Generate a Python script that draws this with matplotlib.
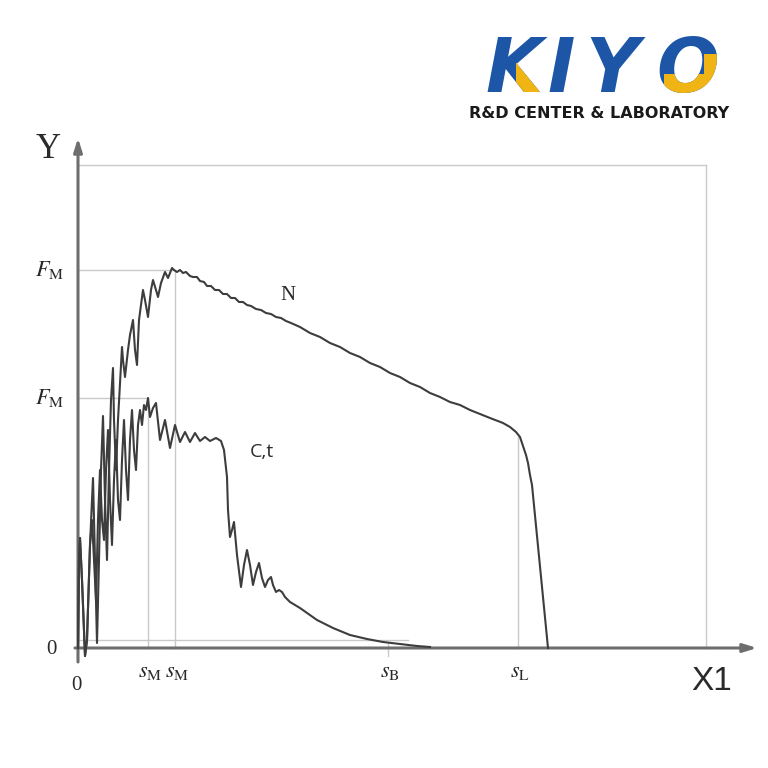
import matplotlib
matplotlib.use("Agg")
import matplotlib.pyplot as plt
from matplotlib.transforms import Bbox, TransformedBbox

plt.rcParams['mathtext.fontset'] = 'stix'

# ---- data (displacement, force) in chart units ----
n_x = [0, 1, 2, 4, 7, 9, 12, 15, 17, 19, 21, 23, 25, 27, 29, 31, 33, 35, 36, 38, 40, 44, 45, 47,
       50, 52, 55, 57, 59, 61, 65, 67, 70, 73, 75, 78, 80, 83, 87, 90, 94, 96, 99, 102, 105, 108,
       112, 115, 119, 122, 126, 129, 133, 137, 141, 145, 149, 153, 157, 161, 165, 169, 173, 178,
       183, 188, 193, 198, 203, 208, 213, 222, 232, 242, 252, 262, 272, 282, 292, 302, 312, 322,
       332, 342, 352, 362, 372, 382, 392, 402, 412, 425, 432, 438, 442, 445, 448, 450, 452, 454, 470]
n_y = [0, 88, 110, 68, -8, 8, 103, 170, 88, 5, 88, 178, 232, 148, 88, 178, 248, 280, 228, 178, 228,
       301, 288, 271, 298, 313, 328, 298, 283, 328, 358, 348, 331, 358, 368, 358, 351, 365, 376,
       370, 380, 378, 376, 378, 375, 376, 372, 371, 371, 367, 366, 362, 362, 358, 358, 354, 354,
       350, 350, 346, 346, 343, 342, 339, 338, 335, 334, 331, 330, 327, 325, 321, 315, 311, 305,
       301, 295, 291, 285, 281, 275, 271, 265, 261, 255, 251, 246, 243, 238, 234, 230, 225, 221,
       216, 211, 202, 193, 185, 173, 163, 0]

c_x = [0, 1, 2, 4, 7, 9, 12, 14, 16, 18, 20, 22, 24, 26, 28, 30, 32, 34, 36, 38, 40, 42, 44, 46,
       48, 50, 52, 54, 56, 58, 60, 62, 64, 66, 68, 70, 72, 75, 78, 82, 87, 92, 97, 102, 107, 112,
       117, 122, 127, 132, 138, 143, 146, 149, 150, 152, 154, 156, 159, 163, 166, 169, 172, 175,
       178, 181, 184, 187, 190, 193, 195, 198, 201, 204, 207, 212, 222, 239, 255, 272, 289, 305,
       322, 339, 352]
c_y = [0, 88, 110, 68, -8, 8, 103, 128, 88, 48, 128, 178, 128, 108, 178, 218, 148, 103, 168, 208,
       148, 128, 188, 228, 178, 148, 208, 238, 198, 178, 223, 238, 223, 243, 238, 250, 231, 240,
       245, 208, 228, 200, 223, 206, 216, 206, 215, 207, 211, 207, 210, 207, 198, 171, 138, 111,
       118, 126, 93, 61, 83, 98, 83, 63, 76, 85, 70, 61, 68, 71, 63, 56, 58, 56, 51, 46, 40, 28,
       20, 13, 9, 6, 4, 2, 1]

F_M_N = 378      # peak force, N curve
F_M_C = 250      # peak force, C,t curve
s_M_C = 70
s_M_N = 97
s_B = 310
s_L = 440
x_box = 628
y_box = 483
x_axis_end = 667
y_axis_end = 510

tick_vals = [s_M_C, s_M_N, s_B, s_L]
tick_labels = [r'$s_{\mathrm{M}}$', r'$s_{\mathrm{M}}$', r'$s_{\mathrm{B}}$', r'$s_{\mathrm{L}}$']

# ---- figure ----
fig = plt.figure(figsize=(7.68, 7.68), dpi=100)
ax = fig.add_axes([0, 0, 1, 1])
ax.set_xlim(-78, 690)
ax.set_ylim(-120, 648)
ax.axis('off')

guide = dict(color='#c9c9c9', lw=1.0, zorder=1)
ax.plot([0, x_box], [y_box, y_box], **guide)
ax.plot([x_box, x_box], [0, y_box], **guide)
ax.plot([0, s_M_N], [F_M_N, F_M_N], **guide)
ax.plot([s_M_N, s_M_N], [0, F_M_N], **guide)
ax.plot([0, s_M_C], [F_M_C, F_M_C], **guide)
ax.plot([s_M_C, s_M_C], [0, F_M_C], **guide)
ax.plot([s_L, s_L], [0, 211], **guide)
ax.plot([0, 330], [8, 8], **guide)
ax.plot([s_B, s_B], [-8, 5], **guide)

# axes with arrows
ax.annotate('', xy=(x_axis_end + 12, 0), xytext=(-3, 0),
            arrowprops=dict(arrowstyle='-|>,head_length=0.8,head_width=0.25',
                            color='#6e6e6e', lw=2.2, shrinkA=0, shrinkB=0), zorder=2)
ax.annotate('', xy=(0, y_axis_end), xytext=(0, -14),
            arrowprops=dict(arrowstyle='-|>,head_length=0.8,head_width=0.25',
                            color='#6e6e6e', lw=2.2, shrinkA=0, shrinkB=0), zorder=2)

# curves
ax.plot(n_x, n_y, color='#3d3d3d', lw=1.5, solid_joinstyle='round', zorder=3)
ax.plot(c_x, c_y, color='#3d3d3d', lw=1.5, solid_joinstyle='round', zorder=3)

# labels
serif = 'Liberation Serif'
ax.text(-30, 498, 'Y', family=serif, fontsize=25, ha='center', va='center', color='#2a2a2a')
ax.text(634, -34, 'X1', family=['Liberation Sans Narrow', 'Liberation Sans'], fontsize=24,
        ha='center', va='center', color='#2a2a2a')
ax.text(-27, -2, '0', family=serif, fontsize=15, ha='center', va='center', color='#2a2a2a')
ax.text(-2, -37, '0', family=serif, fontsize=15, ha='center', va='center', color='#2a2a2a')
ax.text(-28, F_M_N, r'$F_{\mathrm{M}}$', fontsize=16, ha='center', va='center', color='#2a2a2a')
ax.text(-28, F_M_C, r'$F_{\mathrm{M}}$', fontsize=16, ha='center', va='center', color='#2a2a2a')
for v, lab in zip(tick_vals, tick_labels):
    ax.text(v + 2, -24, lab, fontsize=16, ha='center', va='center', color='#2a2a2a')
ax.text(210, 353, 'N', family=serif, fontsize=15, ha='center', va='center', color='#2a2a2a')
ax.text(184, 196, 'C,t', family=['Open Sans', 'DejaVu Sans'], fontsize=14, ha='center',
        va='center', color='#2a2a2a')

# ---- logo ----
lax = fig.add_axes([0, 0, 1, 1])
lax.set_xlim(0, 768)
lax.set_ylim(768, 0)
lax.axis('off')
blue = '#1d56a6'
gold = '#f0b514'
lfont = dict(family='DejaVu Sans', fontweight='bold', fontstyle='italic',
             fontsize=53, va='baseline', ha='center')
letter_x = [514, 561, 612, 688]
for ch, cx in zip('KIYO', letter_x):
    lax.text(cx, 92, ch, color=blue, **lfont)


def gold_part(ch, cx, x0, y0, x1, y1):
    t = lax.text(cx, 92, ch, color=gold, **lfont)
    t.set_clip_on(True)
    t.set_clip_box(TransformedBbox(Bbox.from_extents(x0, y0, x1, y1), lax.transData))


gold_part('K', letter_x[0], 516, 63, 562, 98)
gold_part('O', letter_x[3], 664, 74, 745, 98)
gold_part('O', letter_x[3], 704, 54, 745, 98)

lax.text(599, 114, 'R&D CENTER & LABORATORY', family='DejaVu Sans',
         fontweight='bold', fontsize=11.5, ha='center', va='center', color='#1a1a1a')

fig.savefig('out.png', dpi=100)
